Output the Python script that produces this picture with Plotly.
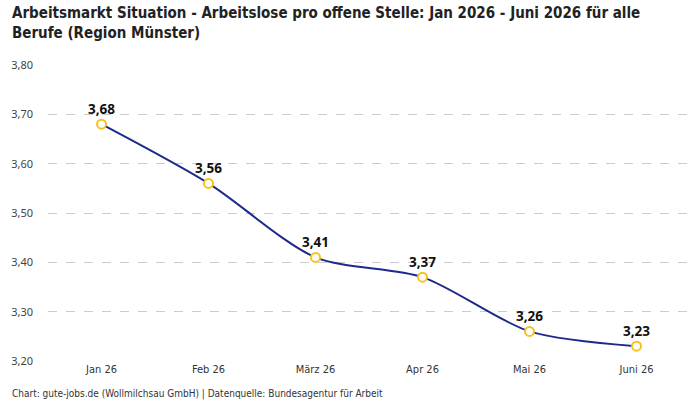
import plotly.graph_objects as go

months = ["Jan 26", "Feb 26", "März 26", "Apr 26", "Mai 26", "Juni 26"]
values = [3.68, 3.56, 3.41, 3.37, 3.26, 3.23]
labels = ["3,68", "3,56", "3,41", "3,37", "3,26", "3,23"]

COND = "DejaVu Sans Condensed"

fig = go.Figure()
fig.add_trace(go.Scatter(
    x=months, y=values, mode="lines+markers+text",
    line=dict(color="#1b2a8c", width=2, shape="spline", smoothing=0.8),
    marker=dict(symbol="circle", size=9, color="white",
                line=dict(color="#f7c21b", width=2)),
    text=labels, textposition="top center",
    textfont=dict(family="Noto Sans", size=13.5, color="#111111", weight="bold"),
    cliponaxis=False, hoverinfo="skip",
))

fig.update_layout(
    width=700, height=400,
    margin=dict(l=48, r=10, t=65, b=39),
    paper_bgcolor="white", plot_bgcolor="white",
    separators=",.",
    showlegend=False,
    xaxis=dict(
        range=[-0.5, 5.5], showgrid=False, zeroline=False, showline=False,
        ticks="", tickfont=dict(family=COND, size=11, color="#333333"),
    ),
    yaxis=dict(
        range=[3.2, 3.8], dtick=0.1, tick0=3.2, tickformat=".2f",
        showgrid=True, gridcolor="#cccccc", griddash="dash", gridwidth=1,
        zeroline=False, showline=False, ticks="", ticklabelstandoff=14,
        tickfont=dict(family="Noto Sans", size=11, color="#444444"),
    ),
    annotations=[
        dict(
            text="Arbeitsmarkt Situation - Arbeitslose pro offene Stelle: Jan 2026 - Juni 2026 für alle<br>Berufe (Region Münster)",
            xref="paper", yref="paper", x=-0.0592, y=1.0 + 63 / 296, xanchor="left", yanchor="top",
            align="left", showarrow=False,
            font=dict(family=COND, size=15, color="#222222", weight="bold"),
        ),
        dict(
            text="Chart: gute-jobs.de (Wollmilchsau GmbH) | Datenquelle: Bundesagentur für Arbeit",
            xref="paper", yref="paper", x=-0.0592, y=-0.085, xanchor="left", yanchor="top",
            showarrow=False, font=dict(family=COND, size=10, color="#333333"),
        ),
    ],
)

fig.write_html("out.html")
